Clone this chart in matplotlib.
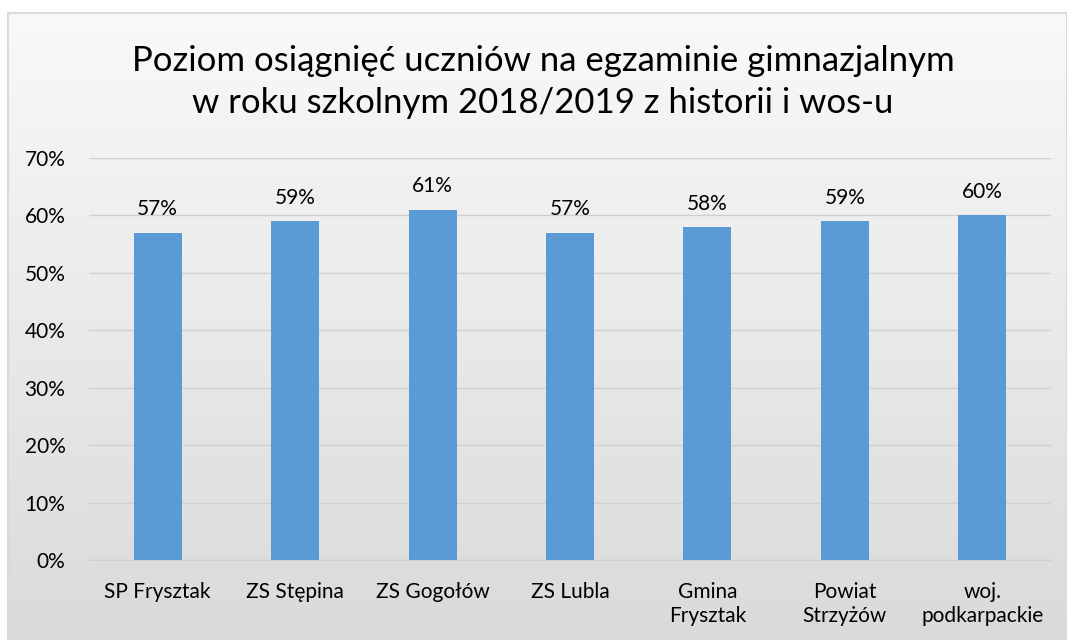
import numpy as np
import matplotlib.pyplot as plt
from matplotlib.colors import LinearSegmentedColormap
from matplotlib.ticker import PercentFormatter

plt.rcParams['font.family'] = ['Lato', 'DejaVu Sans']

categories = ["SP Frysztak", "ZS Stępina", "ZS Gogołów", "ZS Lubla",
              "Gmina\nFrysztak", "Powiat\nStrzyżów", "woj.\npodkarpackie"]
values = [57, 59, 61, 57, 58, 59, 60]
yticks = [0, 10, 20, 30, 40, 50, 60, 70]

W, H = 1067, 640
fig = plt.figure(figsize=(W / 100, H / 100), dpi=100)

# tło z gradientem (jasne u góry, szare na dole)
bg = fig.add_axes([8 / W, 0, 1 - 8 / W, 1 - 13 / H], zorder=0)
grad = np.linspace(0, 1, 256).reshape(-1, 1)
cmap = LinearSegmentedColormap.from_list("bg", ["#F9F9F9", "#DADADA"])
bg.imshow(grad, aspect="auto", cmap=cmap, extent=[0, 1, 0, 1], origin="upper")
bg.set_xticks([])
bg.set_yticks([])
for s in bg.spines.values():
    s.set_color("#D9D9D9")
    s.set_linewidth(1.5)

ax = fig.add_axes([89 / W, 80 / H, 962 / W, 402 / H], zorder=1)
ax.patch.set_alpha(0)

x = range(len(categories))
ax.bar(x, values, width=0.35, color="#5B9BD5", zorder=3)
for i, v in zip(x, values):
    ax.text(i, v + 2.3, f"{v}%", ha="center", va="bottom", fontsize=15, color="#000000")

ax.set_xlim(-0.5, len(categories) - 0.5)
ax.set_ylim(0, 70)
ax.set_yticks(yticks)
ax.yaxis.set_major_formatter(PercentFormatter(decimals=0))
ax.set_xticks(list(x))
ax.set_xticklabels(categories, fontsize=15, color="#000000", linespacing=1.25)
ax.tick_params(axis="y", labelsize=15, labelcolor="#000000", length=0, pad=17)
ax.tick_params(axis="x", length=0, pad=16)
ax.grid(axis="y", color="#D0D0D0", linewidth=1, zorder=0)
for s in ["top", "right", "left"]:
    ax.spines[s].set_visible(False)
ax.spines["bottom"].set_color("#D0D0D0")

fig.text(543 / W, 1 - 82 / H, "Poziom osiągnięć uczniów na egzaminie gimnazjalnym\nw roku szkolnym 2018/2019 z historii i wos-u",
         ha="center", va="center", fontsize=25, color="#000000", linespacing=1.35)

fig.savefig("out.png", dpi=100, facecolor="white")
